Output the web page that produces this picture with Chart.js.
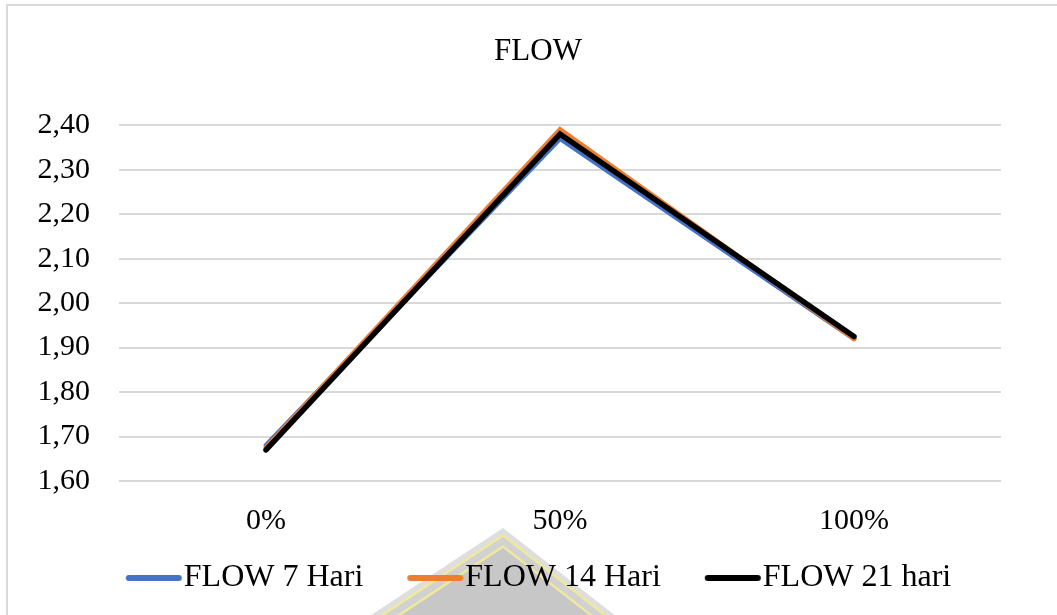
<!DOCTYPE html>
<html>
<head>
<meta charset="utf-8">
<script src="https://cdn.jsdelivr.net/npm/chart.js@4/dist/chart.umd.min.js"></script>
<style>
  html, body { margin: 0; padding: 0; background: #fff; overflow: hidden; }
  #wrap { position: relative; width: 1057px; height: 615px; }
</style>
</head>
<body>
<div id="wrap"><canvas id="chart" width="1057" height="615"></canvas></div>
<script>
// Categories and series values
const categories = ['0%', '50%', '100%'];
const flow7 = [1.68, 2.37, 1.92];
const flow14 = [1.675, 2.39, 1.92];
const flow21 = [1.67, 2.38, 1.925];
const seriesNames = ['FLOW 7 Hari', 'FLOW 14 Hari', 'FLOW 21 hari'];
const seriesColors = ['#4472C4', '#ED7D31', '#000000'];
const chartTitle = 'FLOW';
const yMin = 1.6;
const yMax = 2.4;
const yStep = 0.1;

const FONT = "'Liberation Serif', 'Times New Roman', serif";
const LEGEND_FONT = 32;
const LEGEND_PAD = 1;         // label padding (vertical and between items)
const ITEM_GAP = 44;          // visible gap between one label and the next swatch
const SWATCH_LEN = 56;        // visible length of the legend line
const TEXT_GAP = 2;           // gap between swatch and label text
const LEGEND_CENTER = 538.5;  // horizontal centre of the legend row

// Legend swatch: a short thick line, drawn into a canvas used as point style
const lead = ITEM_GAP - LEGEND_PAD;                               // blank space before the swatch
const boxW = lead + SWATCH_LEN + TEXT_GAP - LEGEND_FONT / 2;      // legend box width
const centerOff = boxW / 2;
const halfImg = Math.max(lead + SWATCH_LEN - centerOff, centerOff - lead) + 2;
function legendSwatch(color) {
  const c = document.createElement('canvas');
  c.width = Math.ceil(halfImg * 2);
  c.height = 10;
  const g = c.getContext('2d');
  const x0 = c.width / 2 - centerOff + lead;
  g.strokeStyle = color;
  g.lineWidth = 6;
  g.lineCap = 'round';
  g.beginPath();
  g.moveTo(x0 + 3, 5);
  g.lineTo(x0 + SWATCH_LEN - 3, 5);
  g.stroke();
  return c;
}
const swatches = seriesColors.map(legendSwatch);

// Page frame and faint emblem behind the legend
const backdrop = {
  id: 'backdrop',
  afterLayout(chart) {
    // let the y labels run left of the narrow axis box without being clipped
    const y = chart.scales.y;
    y.left = 0;
    // centre the legend row
    const lg = chart.legend;
    const shift = LEGEND_CENTER - (lg.left + lg.right + lead) / 2;
    lg.left += shift;
    lg.right += shift;
  },
  beforeDraw(chart) {
    const ctx = chart.ctx;
    ctx.save();
    ctx.fillStyle = '#ffffff';
    ctx.fillRect(0, 0, chart.width, chart.height);

    const ax = 503, ay = 528, kL = 0.66, kR = 0.78, by = 660;
    const layers = [
      [0, '#dedede'], [6, '#efe99c'], [9, '#d1d1d1'], [17, '#efe99c'], [20, '#c7c7c7']
    ];
    layers.forEach(([d, col]) => {
      const y0 = ay + d;
      ctx.beginPath();
      ctx.moveTo(ax, y0);
      ctx.lineTo(ax - (by - y0) / kL, by);
      ctx.lineTo(ax + (by - y0) / kR, by);
      ctx.closePath();
      ctx.fillStyle = col;
      ctx.fill();
    });

    ctx.strokeStyle = '#d9d9d9';
    ctx.lineWidth = 2;
    ctx.beginPath();
    ctx.moveTo(7, chart.height + 5);
    ctx.lineTo(7, 5);
    ctx.lineTo(chart.width + 5, 5);
    ctx.stroke();
    ctx.restore();
  }
};

const datasets = [flow7, flow14, flow21].map((vals, i) => ({
  label: seriesNames[i],
  data: vals,
  borderColor: seriesColors[i],
  backgroundColor: seriesColors[i],
  borderWidth: i === 2 ? 5.5 : 5,
  borderJoinStyle: 'miter',
  borderCapStyle: 'round',
  pointRadius: 0,
  pointHoverRadius: 0,
  tension: 0,
  fill: false,
  clip: false,
  order: 3 - i
}));

new Chart(document.getElementById('chart'), {
  type: 'line',
  data: { labels: categories, datasets },
  plugins: [backdrop],
  options: {
    responsive: false,
    animation: false,
    events: [],
    layout: { padding: { left: 75, right: 56, top: 0, bottom: 11 } },
    plugins: {
      title: {
        display: true,
        text: chartTitle,
        color: '#000',
        font: { family: FONT, size: 31, weight: 'normal' },
        padding: { top: 33, bottom: 55 }
      },
      legend: {
        display: true,
        position: 'bottom',
        labels: {
          color: '#000',
          font: { family: FONT, size: LEGEND_FONT },
          usePointStyle: true,
          pointStyleWidth: boxW,
          padding: LEGEND_PAD,
          generateLabels(chart) {
            return chart.data.datasets.map((ds, i) => ({
              text: ds.label,
              pointStyle: swatches[i],
              fillStyle: ds.borderColor,
              strokeStyle: ds.borderColor,
              lineWidth: 0,
              hidden: false,
              datasetIndex: i,
              fontColor: '#000'
            }));
          }
        }
      },
      tooltip: { enabled: false }
    },
    scales: {
      x: {
        type: 'category',
        offset: true,
        grid: { display: false, drawTicks: false },
        border: { display: false },
        ticks: {
          color: '#000',
          font: { family: FONT, size: 30 },
          padding: 22,
          maxRotation: 0
        }
      },
      y: {
        min: yMin,
        max: yMax,
        afterFit(scale) { scale.width = 44; },
        grid: { color: '#d9d9d9', lineWidth: 2, drawTicks: false },
        border: { display: false },
        ticks: {
          stepSize: yStep,
          color: '#000',
          font: { family: FONT, size: 30 },
          padding: 29,
          callback: v => v.toFixed(2).replace('.', ',')
        }
      }
    }
  }
});
</script>
</body>
</html>
